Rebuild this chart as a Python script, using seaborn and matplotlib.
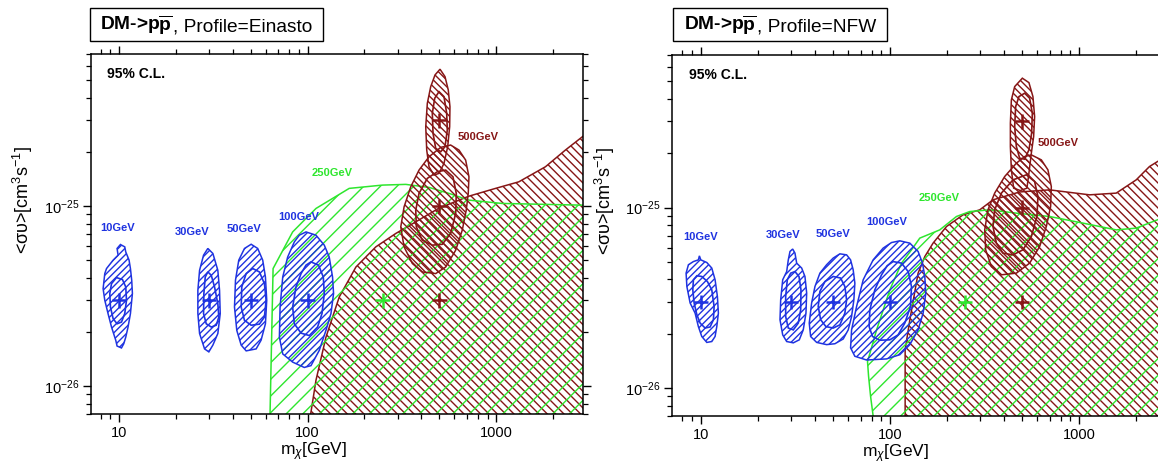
import matplotlib
matplotlib.use("Agg")
import matplotlib.pyplot as plt
import numpy as np
import pandas as pd
import seaborn as sns
from matplotlib.patches import Rectangle
from matplotlib.ticker import LogLocator, NullFormatter, FixedLocator

# ---------------- data (sigma-v values in units of 1e-26 cm^3 s^-1) ----------------
SV_UNIT = 1e-26

# Einasto profile
e10o_m = [10.17, 10.72, 10.85, 11.30, 11.49, 11.67, 11.77, 11.49, 11.16, 10.85, 10.59, 10.30, 9.76, 9.60, 9.12, 8.74, 8.40, 8.23, 8.40, 8.58, 9.30, 9.88, 9.76]
e10o_s = [6.12, 5.94, 5.57, 5.01, 4.50, 3.88, 3.27, 2.53, 2.13, 1.87, 1.72, 1.63, 1.67, 1.80, 2.13, 2.53, 3.00, 3.48, 4.22, 4.50, 5.01, 5.34, 5.82]
e10i_m = [9.69, 10.42, 10.85, 10.95, 10.72, 10.30, 9.76, 9.30, 9.00, 8.93, 9.12]
e10i_s = [4.01, 3.91, 3.56, 3.00, 2.53, 2.27, 2.22, 2.37, 2.75, 3.27, 3.71]
e30o_m = [29.57, 31.44, 33.41, 34.11, 34.40, 33.41, 31.44, 29.93, 28.41, 26.73, 26.18, 26.18, 26.73, 28.06]
e30o_s = [5.82, 5.46, 4.40, 3.41, 2.53, 1.96, 1.69, 1.55, 1.61, 1.96, 2.53, 3.41, 4.40, 5.34]
e30i_m = [29.57, 30.83, 32.09, 33.41, 33.82, 32.76, 30.83, 29.00, 28.06, 28.17, 28.65]
e30i_s = [4.31, 4.13, 3.56, 2.87, 2.42, 2.18, 2.13, 2.22, 2.53, 3.27, 4.04]
e50o_m = [50.18, 54.37, 57.80, 59.74, 60.70, 59.74, 56.66, 53.33, 47.22, 44.43, 42.11, 40.95, 41.45, 43.14, 46.26]
e50o_s = [6.14, 5.82, 5.01, 4.04, 3.00, 2.22, 1.80, 1.61, 1.57, 1.69, 2.04, 2.75, 3.88, 5.01, 5.82]
e50i_m = [51.17, 55.51, 59.01, 60.25, 59.01, 55.51, 50.18, 46.26, 44.43, 44.76, 47.22]
e50i_s = [4.50, 4.31, 3.71, 3.00, 2.42, 2.21, 2.18, 2.32, 2.75, 3.56, 4.22]
e100o_m = [98.06, 110.7, 122.6, 130.2, 135.6, 137.3, 133.0, 125.1, 115.3, 104.2, 96.0, 83.3, 73.8, 70.85, 71.45, 73.8, 78.4, 85.05, 90.4]
e100o_s = [7.19, 6.90, 6.07, 5.22, 4.04, 3.27, 2.53, 2.04, 1.58, 1.30, 1.27, 1.36, 1.51, 1.87, 2.75, 4.04, 5.22, 6.33, 6.90]
e100i_m = [104.2, 114.3, 121.1, 122.6, 119.2, 112.96, 102.1, 92.3, 85.05, 83.3, 86.8, 92.3, 98.06]
e100i_s = [4.90, 4.70, 4.04, 3.27, 2.53, 2.13, 1.91, 1.97, 2.22, 2.75, 3.56, 4.22, 4.70]
eg_m = [63.0, 63.2, 65.6, 83.3, 94.1, 110.8, 166.2, 249.5, 331.6, 440.5, 562, 717, 1076, 1900, 2830, 10000, 10000]
eg_s = [0.1, 0.70, 4.50, 7.19, 8.18, 9.71, 12.55, 13.09, 13.21, 12.71, 11.77, 10.80, 10.35, 10.22, 10.13, 10.0, 0.1]
er_m = [103.5, 103.8, 110.8, 125.1, 147.2, 180.4, 230.1, 293.6, 374.6, 497.7, 717, 992.7, 1319, 1826, 2329, 2797, 10000, 10000]
er_s = [0.1, 0.70, 1.08, 1.87, 3.13, 4.59, 5.94, 7.05, 8.18, 9.75, 11.36, 12.55, 13.65, 16.55, 20.49, 23.81, 67, 0.1]
e500a_out_m = [503.8, 535.4, 557.2, 568.9, 566.8, 553.3, 528.9, 497.7, 468.2, 440.5, 428.3, 423.2, 431.5, 449.7, 474.0]
e500a_out_s = [57.64, 52.43, 44.21, 35.69, 27.63, 21.38, 17.28, 15.21, 14.88, 16.55, 20.49, 27.63, 37.28, 46.12, 53.58]
e500a_in_m = [497.7, 528.9, 546.6, 550.6, 535.4, 508.1, 478.0, 462.6, 458.6, 472.2]
e500a_in_s = [43.25, 40.58, 32.80, 26.48, 21.38, 20.06, 20.95, 25.39, 32.80, 39.76]
e500b_out_m = [573.7, 635.0, 688.9, 717.4, 711.2, 694.0, 661.0, 610.0, 540.0, 478.0, 405.9, 359.4, 324.8, 312.0, 324.8, 352.4, 389.9, 440.5, 508.1]
e500b_out_s = [21.85, 20.49, 18.03, 14.56, 11.77, 9.50, 7.35, 5.69, 4.59, 4.22, 4.31, 4.80, 5.94, 7.67, 9.91, 12.81, 15.86, 18.81, 21.21]
e500b_in_m = [540.0, 590.1, 614.5, 610.0, 573.7, 518.0, 458.6, 405.9, 377.3, 374.6, 389.9, 431.5, 487.4]
e500b_in_s = [15.86, 14.56, 11.77, 9.11, 7.05, 6.14, 6.07, 6.47, 7.67, 9.50, 11.77, 14.27, 15.52]

# NFW profile
n10o_m = [9.83, 10.0, 10.76, 11.43, 11.90, 12.24, 12.39, 12.15, 11.90, 11.43, 10.76, 10.12, 9.71, 9.33, 8.78, 8.44, 8.36, 8.60, 9.14, 9.71]
n10o_s = [5.40, 5.13, 4.96, 4.62, 3.98, 3.22, 2.60, 2.19, 1.93, 1.81, 1.79, 1.93, 2.19, 2.60, 2.96, 3.65, 4.33, 4.82, 5.02, 5.13]
n10i_m = [9.53, 10.12, 10.84, 11.43, 11.76, 11.66, 11.20, 10.54, 9.92, 9.53, 9.22, 9.07, 9.14]
n10i_s = [4.19, 4.15, 3.89, 3.50, 2.83, 2.39, 2.18, 2.15, 2.29, 2.55, 2.96, 3.50, 3.98]
n30o_m = [30.62, 31.49, 32.15, 34.17, 35.56, 36.31, 36.00, 34.83, 33.19, 30.85, 28.47, 27.12, 26.24, 26.46, 27.12, 28.47, 29.03, 29.64]
n30o_s = [5.89, 5.59, 4.92, 4.62, 4.15, 3.36, 2.60, 2.10, 1.85, 1.78, 1.81, 1.97, 2.39, 3.08, 3.98, 4.42, 5.13, 5.71]
n30i_m = [31.49, 33.07, 33.88, 33.76, 32.78, 30.85, 29.03, 28.12, 28.12, 28.68, 29.89]
n30i_s = [4.42, 4.15, 3.50, 2.71, 2.29, 2.10, 2.15, 2.49, 3.22, 3.98, 4.33]
n50o_m = [54.43, 59.05, 61.99, 63.98, 65.32, 64.52, 62.75, 60.23, 56.66, 51.23, 46.30, 41.01, 38.11, 37.47, 38.58, 40.17, 42.67, 46.30, 50.18]
n50o_s = [5.54, 5.47, 5.13, 4.52, 3.81, 3.08, 2.49, 2.10, 1.87, 1.76, 1.74, 1.79, 1.93, 2.29, 2.96, 3.65, 4.33, 4.82, 5.25]
n50i_m = [50.18, 54.89, 57.84, 59.05, 57.84, 54.43, 50.18, 45.91, 43.05, 41.81, 42.67, 45.36]
n50i_s = [4.15, 4.07, 3.65, 3.08, 2.60, 2.24, 2.15, 2.19, 2.39, 2.83, 3.43, 3.89]
n100o_m = [112.9, 127.6, 141.1, 148.9, 153.1, 155.0, 150.0, 141.1, 127.6, 112.9, 96.1, 75.3, 65.3, 62.0, 62.75, 66.7, 72.3, 81.6, 92.2, 102.1]
n100o_s = [6.54, 6.35, 5.71, 4.92, 4.15, 3.36, 2.60, 2.10, 1.74, 1.53, 1.45, 1.43, 1.50, 1.67, 2.10, 2.83, 3.98, 5.13, 5.96, 6.40]
n100i_m = [104.1, 115.3, 125.0, 130.2, 128.6, 120.0, 110.6, 100.0, 88.5, 81.0, 77.7, 78.4, 83.3, 90.4, 96.8]
n100i_s = [5.02, 4.92, 4.42, 3.65, 2.83, 2.29, 1.97, 1.85, 1.84, 1.93, 2.19, 2.71, 3.50, 4.24, 4.76]
ng_m = [82.0, 81.6, 79.1, 77.2, 76.2, 85.1, 100.0, 115.3, 130.2, 144.0, 183.7, 225.1, 264.6, 337.6, 467.0, 700.3, 1050, 1576, 2010, 2604, 10000, 10000]
ng_s = [0.1, 0.70, 0.90, 1.16, 1.40, 2.10, 3.50, 4.92, 5.83, 6.77, 7.52, 8.92, 9.50, 9.71, 9.31, 8.92, 8.20, 7.52, 7.69, 8.55, 14, 0.1]
nr_m = [120.5, 120.5, 120.5, 127.6, 141.1, 153.1, 169.3, 199.4, 243.9, 298.9, 351.3, 486.1, 700.3, 1139, 1576, 2010, 2363, 2604, 10000, 10000]
nr_s = [0.1, 0.70, 1.63, 2.39, 4.33, 5.35, 6.35, 7.85, 9.11, 9.71, 11.03, 12.2, 12.53, 11.76, 12.02, 14.23, 16.87, 17.97, 40, 0.1]
n500a_out_m = [502.3, 544.3, 571.5, 583.4, 576.4, 560.5, 544.3, 531.2, 490.3, 451.9, 439.5, 434.2, 434.2, 439.5, 457.5]
n500a_out_s = [52.07, 49.22, 41.18, 31.91, 24.72, 20.01, 15.50, 12.81, 12.42, 12.81, 16.17, 21.77, 29.34, 39.47, 46.77]
n500a_in_m = [516.6, 548.9, 567.3, 562.5, 544.3, 516.6, 486.1, 467.0, 457.5, 463.1, 482.0]
n500a_in_s = [43.00, 40.35, 33.32, 25.82, 20.87, 18.53, 18.77, 21.77, 28.09, 36.25, 41.18]
n500b_out_m = [560.5, 633.1, 686.0, 715.0, 708.9, 672.9, 620.1, 548.9, 467.0, 389.2, 344.5, 321.4, 317.6, 330.5, 358.6, 405.1, 467.0, 516.6]
n500b_out_s = [19.58, 18.37, 16.17, 13.07, 10.13, 7.85, 6.08, 4.92, 4.33, 4.24, 4.71, 5.83, 7.52, 9.71, 12.02, 14.85, 17.61, 19.16]
n500b_in_m = [527.3, 583.4, 607.4, 600.0, 560.5, 506.0, 448.1, 396.8, 366.2, 351.3, 358.6, 389.2, 448.1]
n500b_in_s = [15.18, 13.93, 11.50, 8.92, 6.91, 5.83, 5.47, 5.59, 6.35, 7.85, 9.71, 12.02, 14.23]

# best-fit / injected points
cross_m = [10, 30, 50, 100, 250, 500, 500, 500]
cross_s = [3, 3, 3, 3, 3, 3, 10, 30]
cross_grp = ["b", "b", "b", "b", "g", "r", "r", "r"]

# mass labels
label_text = ["10GeV", "30GeV", "50GeV", "100GeV", "250GeV", "500GeV"]
label_grp = ["b", "b", "b", "b", "g", "r"]
ein_label_m = [9.86, 24.5, 45.9, 89.3, 135.6, 803]
ein_label_s = [7.57, 7.14, 7.45, 8.65, 15.3, 24.3]
nfw_label_m = [10.0, 27.1, 50.2, 96.8, 181.5, 775]
nfw_label_s = [6.91, 7.06, 7.15, 8.36, 11.27, 22.9]

x_ticks = [10, 100, 1000]
x_tick_labels = ["10", "100", "1000"]
y_ticks = [1e-26, 1e-25]

# ---------------- style ----------------
BLUE = "#1f33e0"
GREEN = "#2ee62e"
RED = "#861616"
COLORS = {"b": BLUE, "g": GREEN, "r": RED}

sns.set_theme(style="ticks")
plt.rcParams["font.family"] = ["Liberation Sans", "DejaVu Sans"]
plt.rcParams.update({
    "mathtext.fontset": "custom",
    "mathtext.rm": "Liberation Sans",
    "mathtext.it": "Liberation Sans:italic",
    "mathtext.bf": "Liberation Sans:bold",
    "hatch.linewidth": 1.0,
    "axes.edgecolor": "black",
    "xtick.color": "black",
    "ytick.color": "black",
    "text.color": "black",
    "axes.labelcolor": "black",
})

fig = plt.figure(figsize=(11.58, 4.63), dpi=100)
ax_e = fig.add_axes([0.0783, 0.1058, 0.4252, 0.7775])
ax_n = fig.add_axes([0.5806, 0.1015, 0.4263, 0.7797])


def sv(vals):
    return np.asarray(vals) * SV_UNIT


def region(ax, m, s, color, hatch, z):
    ax.fill(m, sv(s), facecolor="none", edgecolor=color, hatch=hatch, lw=1.1, zorder=z)


def outline(ax, m, s, color, z):
    ax.fill(m, sv(s), facecolor="none", edgecolor=color, lw=1.2, zorder=z)


def draw_panel(ax, d, lab_m, lab_s):
    region(ax, d["rm"], d["rs"], RED, "\\\\\\\\", 1.0)
    region(ax, d["gm"], d["gs"], GREEN, "//", 1.1)
    for mo, so, mi, si in d["blue"]:
        region(ax, mo, so, BLUE, "/////", 2)
        outline(ax, mi, si, BLUE, 2.1)
    for mo, so, mi, si in d["red"]:
        region(ax, mo, so, RED, "\\\\\\\\\\", 2.2)
        outline(ax, mi, si, RED, 2.3)

    df = pd.DataFrame({"m": cross_m, "sv": sv(cross_s), "grp": cross_grp})
    sns.scatterplot(data=df, x="m", y="sv", hue="grp", palette=COLORS, marker="+",
                    s=110, linewidth=1.8, legend=False, ax=ax, zorder=5)

    for t, g, lm, ls in zip(label_text, label_grp, lab_m, lab_s):
        ax.text(lm, ls * SV_UNIT, t, color=COLORS[g], fontsize=8, fontweight="bold",
                ha="center", va="center", zorder=6)

    ax.text(0.033, 0.944, "95% C.L.", transform=ax.transAxes, fontsize=10,
            fontweight="bold", ha="left", va="center")

    ax.set_xscale("log")
    ax.set_yscale("log")
    ax.set_xlim(7.07, 2890)
    ax.set_ylim(7e-27, 7e-25)
    ax.xaxis.set_major_locator(FixedLocator(x_ticks))
    ax.set_xticklabels(x_tick_labels)
    ax.xaxis.set_minor_locator(LogLocator(base=10, subs=np.arange(2, 10)))
    ax.xaxis.set_minor_formatter(NullFormatter())
    ax.yaxis.set_major_locator(FixedLocator(y_ticks))
    ax.yaxis.set_minor_locator(LogLocator(base=10, subs=np.arange(2, 10)))
    ax.yaxis.set_minor_formatter(NullFormatter())
    ax.tick_params(which="both", direction="out", top=True, right=True,
                   bottom=True, left=True)
    ax.tick_params(which="major", length=5.8, width=1.0, labelsize=10.5, pad=2.5)
    ax.tick_params(which="minor", length=3.6, width=0.9)
    for sp in ax.spines.values():
        sp.set_linewidth(1.1)
        sp.set_color("black")
    ax.grid(False)

    ax.set_xlabel(r"m$_\chi$[GeV]", fontsize=12.5)
    ax.xaxis.label.set_verticalalignment("center")
    ax.xaxis.set_label_coords(0.452, -0.104)
    ax.set_ylabel("<συ>[cm$^3$s$^{-1}$]", fontsize=13)
    ax.yaxis.label.set_verticalalignment("center")
    ax.yaxis.set_label_coords(-0.137, 0.595)


ein = {
    "rm": er_m, "rs": er_s, "gm": eg_m, "gs": eg_s,
    "blue": [(e10o_m, e10o_s, e10i_m, e10i_s), (e30o_m, e30o_s, e30i_m, e30i_s),
             (e50o_m, e50o_s, e50i_m, e50i_s), (e100o_m, e100o_s, e100i_m, e100i_s)],
    "red": [(e500a_out_m, e500a_out_s, e500a_in_m, e500a_in_s),
            (e500b_out_m, e500b_out_s, e500b_in_m, e500b_in_s)],
}
nfw = {
    "rm": nr_m, "rs": nr_s, "gm": ng_m, "gs": ng_s,
    "blue": [(n10o_m, n10o_s, n10i_m, n10i_s), (n30o_m, n30o_s, n30i_m, n30i_s),
             (n50o_m, n50o_s, n50i_m, n50i_s), (n100o_m, n100o_s, n100i_m, n100i_s)],
    "red": [(n500a_out_m, n500a_out_s, n500a_in_m, n500a_in_s),
            (n500b_out_m, n500b_out_s, n500b_in_m, n500b_in_s)],
}

draw_panel(ax_e, ein, ein_label_m, ein_label_s)
draw_panel(ax_n, nfw, nfw_label_m, nfw_label_s)

# ---------------- boxed titles ----------------
W, H = 1158.0, 463.0
renderer = fig.canvas.get_renderer()
for (bx0, bx1, tx), prof in [((90, 323, 100), "Einasto"), ((673, 887, 684), "NFW")]:
    fig.patches.append(Rectangle((bx0 / W, 1 - 41 / H), (bx1 - bx0) / W, 33 / H,
                                 transform=fig.transFigure, facecolor="white",
                                 edgecolor="black", lw=1.0))
    t1 = fig.text(tx / W, 1 - 31 / H, r"DM->p$\mathbf{\overline{p}}$", fontsize=13.8,
                  fontweight="bold", va="baseline", ha="left")
    bb = t1.get_window_extent(renderer=renderer)
    fig.text(bb.x1 / fig.bbox.width, 1 - 31 / H, ", Profile=" + prof, fontsize=13.8,
             va="baseline", ha="left")

fig.savefig("out.png", dpi=100)
